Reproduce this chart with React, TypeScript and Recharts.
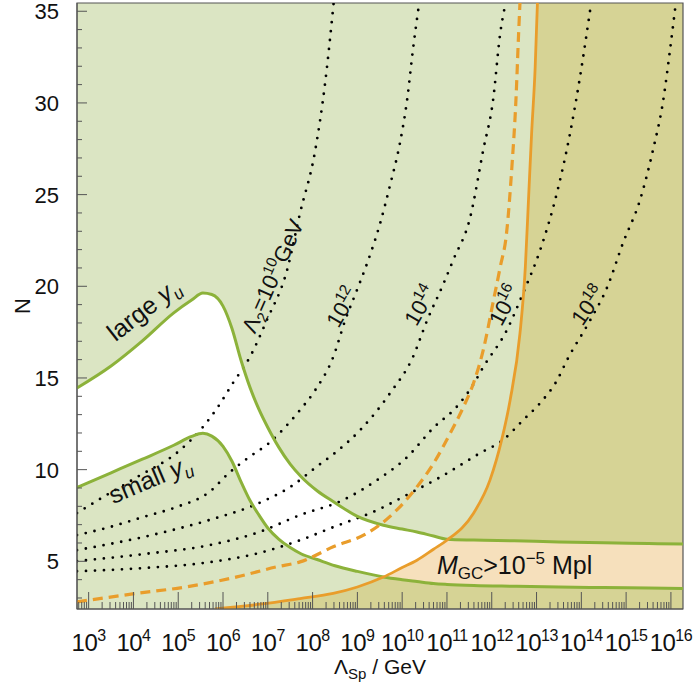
import React from 'react';
import {
  ComposedChart,
  Area,
  Line,
  XAxis,
  YAxis,
  ReferenceDot,
  ReferenceArea,
} from 'recharts';

const FONT = '"Liberation Sans", Arial, Helvetica, sans-serif';

// x is log10(Λ_Sp / GeV), y is N
const X_RANGE: [number, number] = [2.74, 16.27];
const Y_RANGE: [number, number] = [2.4, 35.45];

const xMajorTicks = [3, 4, 5, 6, 7, 8, 9, 10, 11, 12, 13, 14, 15, 16];
const xMinorSteps = [2, 3, 4, 5, 6, 7, 8, 9];
const yMajorTicks = [5, 10, 15, 20, 25, 30, 35];

// large / small y_u boundaries, read on a common x grid
const bandX = [2.74, 3.5, 4.2, 4.9, 5.3, 5.55, 5.75, 6.0, 6.2, 6.4, 6.6, 6.8, 7.0, 7.25, 7.5, 7.75, 8.1, 8.5, 9.0, 9.58, 10.0, 10.33, 10.7, 11.0, 11.6, 12.5, 13.5, 14.5, 15.5, 16.27];
const largeYu = [14.45, 15.65, 17.02, 18.55, 19.25, 19.63, 19.55, 18.92, 17.7, 15.98, 14.5, 13.3, 12.3, 11.2, 10.3, 9.6, 8.85, 8.2, 7.45, 6.97, 6.76, 6.6, 6.38, 6.21, 6.16, 6.12, 6.06, 6.01, 5.97, 5.94];
const smallYu = [9.03, 9.83, 10.57, 11.33, 11.81, 11.98, 11.83, 11.27, 10.46, 9.35, 8.33, 7.53, 6.82, 6.2, 5.75, 5.4, 5.1, 4.76, 4.45, 4.15, 4.0, 3.9, 3.79, 3.74, 3.68, 3.64, 3.6, 3.57, 3.54, 3.52];

// M_GC = 10^-5 Mpl boundary (solid) and the dashed one
const mgcX = [5.82, 6.83, 7.72, 8.46, 9.0, 9.58, 10.0, 10.33, 10.7, 11.0, 11.59, 11.96, 12.22, 12.41, 12.63, 12.75, 12.82, 12.89, 12.97, 13.02];
const mgcN = [2.4, 2.66, 2.97, 3.25, 3.6, 4.14, 4.66, 5.06, 5.66, 6.15, 7.61, 9.43, 11.61, 13.79, 17.43, 21.06, 24.7, 28.34, 31.97, 35.45];
const mgcDashX = [2.74, 4.07, 5.19, 6.31, 7.2, 7.72, 8.46, 9.21, 9.8, 10.33, 10.7, 11.07, 11.37, 11.59, 11.81, 12.04, 12.19, 12.33, 12.45, 12.54, 12.6, 12.63];
const mgcDashN = [2.79, 3.25, 3.61, 4.15, 4.7, 4.97, 5.79, 6.52, 7.61, 9.06, 10.34, 11.97, 13.43, 14.7, 16.52, 19.25, 21.06, 22.89, 26.52, 30.16, 33.8, 35.45];

// dotted contours of Λ2 = 10^10 ... 10^18 GeV, [x, N]
const lambda2_10 = [[2.74, 7.63], [3.32, 8.5], [4.08, 9.59], [5.04, 11.06], [5.55, 12.32], [5.87, 13.36], [6.22, 14.72], [6.6, 16.14], [6.98, 18.16], [7.43, 20.88], [7.72, 23.99], [8.06, 27.43], [8.28, 31.09], [8.47, 35.45]];
const lambda2_12 = [[2.74, 6.43], [3.46, 6.86], [4.21, 7.41], [4.95, 7.95], [5.69, 8.77], [6.13, 9.81], [6.58, 10.68], [7.03, 11.45], [7.47, 12.54], [7.72, 13.25], [8.06, 14.34], [8.46, 16.14], [8.73, 18.16], [8.99, 19.79], [9.22, 21.27], [9.51, 23.45], [9.73, 25.52], [9.95, 27.81], [10.11, 30.16], [10.24, 32.89], [10.38, 35.45]];
const lambda2_14 = [[2.74, 5.61], [4.21, 6.32], [5.69, 7.25], [6.69, 8.06], [7.56, 9.15], [8.08, 10.14], [8.52, 10.95], [9.06, 12.15], [9.73, 14.17], [10.24, 16.14], [10.56, 18.16], [10.91, 20.07], [11.14, 21.43], [11.52, 23.77], [11.81, 27.43], [12.03, 30.16], [12.19, 33.81], [12.31, 35.45]];
const lambda2_16 = [[2.74, 5.01], [4.21, 5.39], [5.69, 5.88], [6.8, 6.59], [7.72, 7.52], [8.68, 8.34], [9.44, 9.43], [10.11, 10.68], [10.69, 12.26], [11.23, 13.46], [11.58, 14.61], [11.81, 15.59], [12.34, 17.62], [12.7, 19.63], [13.08, 21.97], [13.46, 25.14], [13.75, 28.36], [13.97, 31.41], [14.22, 35.45]];
const lambda2_18 = [[2.74, 4.46], [4.21, 4.63], [5.69, 4.95], [6.8, 5.45], [7.72, 6.15], [8.46, 6.86], [9.44, 7.79], [10.18, 8.72], [10.85, 9.59], [11.74, 10.9], [12.25, 11.61], [12.7, 12.7], [13.08, 13.63], [13.46, 14.88], [13.68, 15.97], [14.2, 18.16], [14.58, 19.96], [14.93, 22.36], [15.31, 24.7], [15.6, 27.43], [15.83, 30.16], [15.98, 32.89], [16.11, 35.45]];
const lambda2Curves = [lambda2_10, lambda2_12, lambda2_14, lambda2_16, lambda2_18];

const GREEN_FILL = '#dbe5c3';
const OLIVE_FILL = '#d6d395';
const PEACH_FILL = '#f6e0bc';
const GREEN_LINE = '#8cb23a';
const ORANGE = '#e99d2b';
const FRAME = '#555';

const lerp = (xs: number[], ys: number[], x: number) => {
  if (x <= xs[0]) return ys[0];
  if (x >= xs[xs.length - 1]) return ys[ys.length - 1];
  let i = 1;
  while (xs[i] < x) i++;
  const t = (x - xs[i - 1]) / (xs[i] - xs[i - 1]);
  return ys[i - 1] + t * (ys[i] - ys[i - 1]);
};

const toPts = (xs: number[], ys: number[]) => xs.map((x, i) => ({ x, y: ys[i] }));

const bgRows = [
  { x: X_RANGE[0], range: Y_RANGE },
  { x: X_RANGE[1], range: Y_RANGE },
];
const oliveRows = [
  ...mgcX.map((x, i) => ({ x, range: [Y_RANGE[0], mgcN[i]] })),
  { x: X_RANGE[1], range: [Y_RANGE[0], Y_RANGE[1]] },
];
// band between the y_u curves: white left of the orange line, peach right of it
const whiteRows = bandX.map((x, i) => {
  const lo = smallYu[i];
  const hi = largeYu[i];
  const f = lerp(mgcX, mgcN, x);
  return { x, range: [Math.min(Math.max(lo, f), hi), hi] };
});
const peachRows = bandX.map((x, i) => {
  const lo = smallYu[i];
  const hi = largeYu[i];
  const f = lerp(mgcX, mgcN, x);
  return { x, range: [lo, Math.max(lo, Math.min(hi, f))] };
});

const xTicks: number[] = [];
for (let e = 2; e <= 16; e++) {
  if (xMajorTicks.includes(e)) xTicks.push(e);
  xMinorSteps.forEach((k) => {
    const v = e + Math.log10(k);
    if (v > X_RANGE[0] && v < X_RANGE[1]) xTicks.push(v);
  });
}
const yTicks: number[] = [];
for (let n = 3; n <= 35; n++) yTicks.push(n);

const XTick = (props: any) => {
  const { x, y, payload } = props;
  const v = payload.value;
  const major = Number.isInteger(v);
  return (
    <g>
      <line x1={x} x2={x} y1={y} y2={y - (major ? 17 : 7)} stroke={FRAME} strokeWidth={1} />
      {major && (
        <text x={x} y={y + 42} textAnchor="middle" fontSize={24} fontFamily={FONT} fill="#111" letterSpacing={-0.5}>
          10<tspan dy={-10} fontSize={16}>{v}</tspan>
        </text>
      )}
    </g>
  );
};

const YTick = (props: any) => {
  const { x, y, payload } = props;
  const v = payload.value;
  const major = yMajorTicks.includes(v);
  return (
    <g>
      <line x1={x} x2={x + (major ? 10 : 5)} y1={y} y2={y} stroke={FRAME} strokeWidth={1} />
      {major && (
        <text x={x - 18} y={y} dy={8} textAnchor="end" fontSize={22} fontFamily={FONT} fill="#111">
          {v}
        </text>
      )}
    </g>
  );
};

const tag = (angle: number, size: number, body: React.ReactNode) => (p: any) => {
  const vb = p.viewBox || {};
  const cx = (vb.x ?? 0) + (vb.width ?? 0) / 2;
  const cy = (vb.y ?? 0) + (vb.height ?? 0) / 2;
  return (
    <text
      transform={`translate(${cx},${cy}) rotate(${angle})`}
      textAnchor="middle"
      dy={size * 0.36}
      fontSize={size}
      fontFamily={FONT}
      fill="#111"
    >
      {body}
    </text>
  );
};

const notes = [
  {
    x: 4.22, y: 18.75, angle: -38, size: 25,
    body: (<>{'large '}<tspan fontStyle="italic">y</tspan><tspan fontStyle="italic" fontSize={17} dy={6}>u</tspan></>),
  },
  {
    x: 4.37, y: 9.5, angle: -23, size: 25,
    body: (<>{'small '}<tspan fontStyle="italic">y</tspan><tspan fontStyle="italic" fontSize={17} dy={6}>u</tspan></>),
  },
  {
    x: 7.1, y: 20.56, angle: -66, size: 22,
    body: (<>Λ<tspan fontSize={15} dy={5}>2</tspan><tspan dy={-5}>=10</tspan><tspan fontSize={15} dy={-9}>10</tspan><tspan dy={9}>GeV</tspan></>),
  },
  { x: 8.66, y: 18.87, angle: -60, size: 22, body: (<>10<tspan fontSize={15.5} dy={-9}>12</tspan></>) },
  { x: 10.4, y: 18.97, angle: -60, size: 22, body: (<>10<tspan fontSize={15.5} dy={-9}>14</tspan></>) },
  { x: 12.28, y: 18.97, angle: -62, size: 22, body: (<>10<tspan fontSize={15.5} dy={-9}>16</tspan></>) },
  { x: 14.15, y: 18.97, angle: -55, size: 22, body: (<>10<tspan fontSize={15.5} dy={-9}>18</tspan></>) },
  {
    x: 12.51, y: 4.82, angle: 0, size: 25,
    body: (<><tspan fontStyle="italic">M</tspan><tspan fontSize={17} dy={5}>GC</tspan><tspan dy={-5}>{'>10'}</tspan><tspan fontSize={17} dy={-10}>−5</tspan><tspan dy={10}>{' Mpl'}</tspan></>),
  },
];

const XTitle = (p: any) => {
  const vb = p.viewBox || {};
  return (
    <text x={vb.x + vb.width / 2} y={vb.y + 65} textAnchor="middle" fontSize={21} fontFamily={FONT} fill="#111">
      Λ<tspan fontSize={15} dy={5}>Sp</tspan><tspan dy={-5}>{' / GeV'}</tspan>
    </text>
  );
};

const YTitle = (p: any) => {
  const vb = p.viewBox || {};
  const cx = vb.x + 22;
  const cy = vb.y + vb.height / 2;
  return (
    <text transform={`translate(${cx},${cy}) rotate(-90)`} textAnchor="middle" dy={8} fontSize={22} fontFamily={FONT} fill="#111">
      N
    </text>
  );
};

export default function App() {
  return (
    <div style={{ position: 'absolute', left: 0, top: 0, width: 694, height: 684, background: '#fff' }}>
      <ComposedChart width={694} height={684} margin={{ top: 3, right: 11, bottom: 0, left: 0 }}>
        <Area data={bgRows} dataKey="range" type="linear" stroke="none" fill={GREEN_FILL} fillOpacity={1} isAnimationActive={false} dot={false} activeDot={false} />
        <Area data={oliveRows} dataKey="range" type="monotone" stroke="none" fill={OLIVE_FILL} fillOpacity={1} isAnimationActive={false} dot={false} activeDot={false} />
        <Area data={whiteRows} dataKey="range" type="monotone" stroke="none" fill="#ffffff" fillOpacity={1} isAnimationActive={false} dot={false} activeDot={false} />
        <Area data={peachRows} dataKey="range" type="monotone" stroke="none" fill={PEACH_FILL} fillOpacity={1} isAnimationActive={false} dot={false} activeDot={false} />

        {lambda2Curves.map((c, i) => (
          <Line
            key={`l2-${i}`}
            data={c.map(([x, y]) => ({ x, y }))}
            dataKey="y"
            type="monotone"
            stroke="#000"
            strokeWidth={2.8}
            strokeDasharray="0 9"
            strokeLinecap="round"
            dot={false}
            activeDot={false}
            isAnimationActive={false}
          />
        ))}

        <Line data={toPts(bandX, largeYu)} dataKey="y" type="monotone" stroke={GREEN_LINE} strokeWidth={3} dot={false} activeDot={false} isAnimationActive={false} />
        <Line data={toPts(bandX, smallYu)} dataKey="y" type="monotone" stroke={GREEN_LINE} strokeWidth={3} dot={false} activeDot={false} isAnimationActive={false} />
        <Line data={toPts(mgcDashX, mgcDashN)} dataKey="y" type="monotone" stroke={ORANGE} strokeWidth={3.2} strokeDasharray="10 6" dot={false} activeDot={false} isAnimationActive={false} />
        <Line data={toPts(mgcX, mgcN)} dataKey="y" type="monotone" stroke={ORANGE} strokeWidth={2.8} dot={false} activeDot={false} isAnimationActive={false} />

        {notes.map((n, i) => (
          <ReferenceDot
            key={`note-${i}`}
            x={n.x}
            y={n.y}
            r={0}
            fill="none"
            stroke="none"
            label={{ content: tag(n.angle, n.size, n.body) }}
          />
        ))}

        <ReferenceArea x1={X_RANGE[0]} x2={X_RANGE[1]} y1={Y_RANGE[0]} y2={Y_RANGE[1]} fill="none" stroke={FRAME} strokeWidth={1.2} fillOpacity={0} />

        <XAxis
          dataKey="x"
          type="number"
          domain={X_RANGE}
          allowDataOverflow
          ticks={xTicks}
          interval={0}
          tick={(p: any) => <XTick {...p} />}
          tickLine={false}
          tickSize={0}
          tickMargin={0}
          axisLine={{ stroke: FRAME }}
          height={75}
          label={{ content: XTitle }}
        />
        <YAxis
          type="number"
          domain={Y_RANGE}
          allowDataOverflow
          ticks={yTicks}
          interval={0}
          tick={(p: any) => <YTick {...p} />}
          tickLine={false}
          tickSize={0}
          tickMargin={0}
          axisLine={{ stroke: FRAME }}
          width={77}
          label={{ content: YTitle }}
        />
      </ComposedChart>
    </div>
  );
}
